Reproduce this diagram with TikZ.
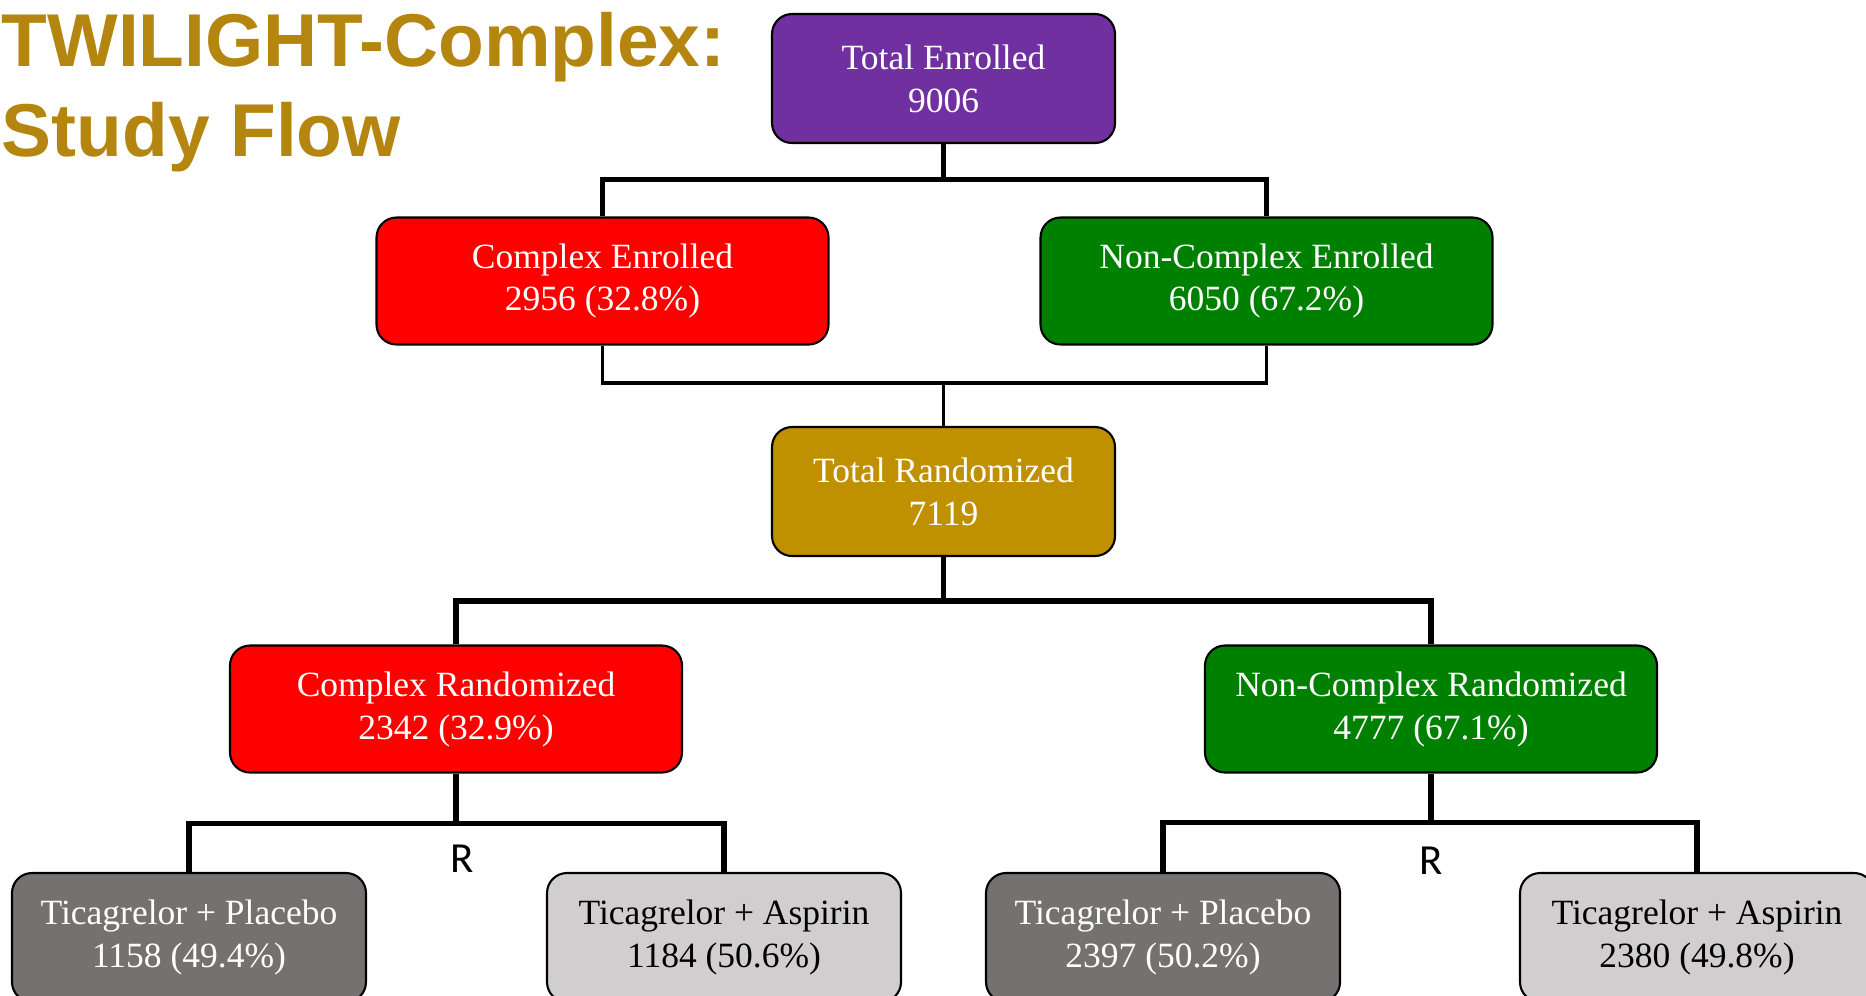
\documentclass[tikz,border=0pt]{standalone}
\usepackage{fontspec}
\setmainfont{Liberation Serif}
\newfontfamily\titlefamily{Liberation Sans}
\newfontfamily\rfamily{Carlito}
\usepackage{xcolor}
\usepackage{tikz}
\usetikzlibrary{positioning}
\definecolor{twpurple}{HTML}{7030A0}
\definecolor{twred}{HTML}{FF0000}
\definecolor{twgreen}{HTML}{008000}
\definecolor{twgold}{HTML}{BF9000}
\definecolor{twdark}{HTML}{767171}
\definecolor{twlight}{HTML}{D0CECE}
\definecolor{twtitle}{HTML}{B5860F}

\begin{document}
\begin{tikzpicture}[
    box/.style={rectangle, draw=black, line width=0.6pt, rounded corners=0.2cm, align=center, text=white, inner sep=0pt, font=\fontsize{10.1}{12.2}\selectfont},
    totalbox/.style={box, minimum width=3.43cm, minimum height=1.29cm},
    groupbox/.style={box, minimum width=4.52cm, minimum height=1.27cm},
    armbox/.style={box, minimum width=3.54cm, minimum height=1.29cm},
    link/.style={draw=black, line width=1.4pt},
    thinlink/.style={draw=black, line width=1.1pt},
    armlink/.style={draw=black, line width=1.6pt},
    rlabel/.style={anchor=base, inner sep=0pt, font=\rfamily\fontsize{12.2}{14}\selectfont}
]
    \useasboundingbox (0,0) rectangle (18.66,-9.95);
    \clip (0,0) rectangle (18.66,-9.95);

    \node[anchor=north west, inner sep=0pt, align=left, text=twtitle, font=\titlefamily\bfseries\fontsize{21.3}{25.6}\selectfont] (title) at (0.01,-0.12) {TWILIGHT-Complex:\\Study Flow};

    \node[totalbox, fill=twpurple] (enrolled) at (9.435,-0.785) {Total Enrolled\\9006};
    \node[groupbox, fill=twred] (cplxEnr) at (6.025,-2.81) {Complex Enrolled\\2956 (32.8\%)};
    \node[groupbox, fill=twgreen] (ncplxEnr) at (12.665,-2.81) {Non-Complex Enrolled\\6050 (67.2\%)};
    \node[totalbox, fill=twgold] (randomized) at (9.435,-4.915) {Total Randomized\\7119};
    \node[groupbox, fill=twred] (cplxRand) at (4.56,-7.09) {Complex Randomized\\2342 (32.9\%)};
    \node[groupbox, fill=twgreen] (ncplxRand) at (14.31,-7.09) {Non-Complex Randomized\\4777 (67.1\%)};
    \node[armbox, fill=twdark] (placeboA) at (1.89,-9.375) {Ticagrelor + Placebo\\1158 (49.4\%)};
    \node[armbox, fill=twlight, text=black] (aspirinA) at (7.24,-9.375) {Ticagrelor + Aspirin\\1184 (50.6\%)};
    \node[armbox, fill=twdark] (placeboB) at (11.63,-9.375) {Ticagrelor + Placebo\\2397 (50.2\%)};
    \node[armbox, fill=twlight, text=black] (aspirinB) at (16.97,-9.375) {Ticagrelor + Aspirin\\2380 (49.8\%)};

    \node[rlabel] (randA) at (4.62,-8.72) {R};
    \node[rlabel] (randB) at (14.31,-8.74) {R};

    \draw[link] (enrolled.south) -- ++(0,-0.355) coordinate (splitE);
    \draw[link] (cplxEnr.north) |- (splitE) -| (ncplxEnr.north);
    \draw[thinlink] (randomized.north) -- ++(0,0.43) coordinate (mergeR);
    \draw[thinlink] (cplxEnr.south) |- (mergeR) -| (ncplxEnr.south);
    \draw[armlink] (randomized.south) -- ++(0,-0.44) coordinate (splitR);
    \draw[armlink] (cplxRand.north) |- (splitR) -| (ncplxRand.north);
    \draw[armlink] (cplxRand.south) -- ++(0,-0.50) coordinate (splitA);
    \draw[armlink] (placeboA.north) |- (splitA) -| (aspirinA.north);
    \draw[armlink] (ncplxRand.south) -- ++(0,-0.49) coordinate (splitB);
    \draw[armlink] (placeboB.north) |- (splitB) -| (aspirinB.north);
\end{tikzpicture}
\end{document}
